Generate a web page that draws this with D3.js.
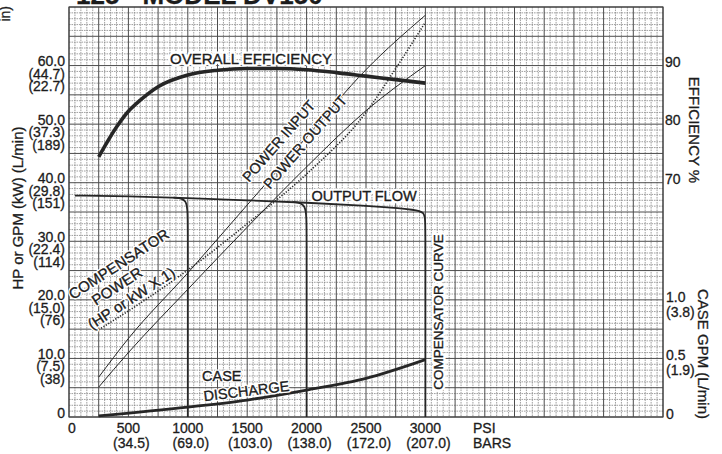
<!DOCTYPE html>
<html><head><meta charset="utf-8">
<script src="https://cdn.jsdelivr.net/npm/d3@7"></script>
<style>
body{margin:0;background:#fff}
svg{display:block}
text{font-family:"Liberation Sans",Arial,Helvetica,sans-serif}
</style>
</head><body>
<svg id="c" width="722" height="454"></svg>
<script>
// ---------- data ----------
const psiTicks = [0, 500, 1000, 1500, 2000, 2500, 3000];
const barTicks = ["", "(34.5)", "(69.0)", "(103.0)", "(138.0)", "(172.0)", "(207.0)"];
const leftTicks = [0, 10, 20, 30, 40, 50, 60];
const leftHp = ["0", "10.0", "20.0", "30.0", "40.0", "50.0", "60.0"];
const leftKw = ["", "(7.5)", "(15.0)", "(22.4)", "(29.8)", "(37.3)", "(44.7)"];
const leftLpm = ["", "(38)", "(76)", "(114)", "(151)", "(189)", "(22.7)"];
const effTicks = [70, 80, 90];
const caseTicks = [0, 0.5, 1.0];
const caseTickLabels = ["0", "0.5", "1.0"];
const caseTickLpm = ["", "(1.9)", "(3.8)"];

// overall efficiency (%)
const effPsi = [250, 400, 500, 600, 750, 1000, 1250, 1500, 1750, 2000, 2250, 2500, 2750, 3000];
const effVal = [74.4, 79.5, 82.2, 84.1, 86.4, 88.4, 89.2, 89.5, 89.5, 89.3, 88.8, 88.2, 87.6, 87.0];

// power input / output (HP)
const pwrPsi = [250, 500, 1000, 1500, 2000, 2500, 3000];
const pwrIn = [6.8, 13.4, 24.6, 36.2, 47.8, 59.3, 68.6];
const pwrOut = [5.1, 11.0, 21.8, 32.4, 42.7, 52.3, 60.0];

// compensator power (HP x .1)
const compPsi = [250, 700, 1100, 1500, 2000, 2500, 2750, 3000];
const compVal = [14.9, 20.8, 26.6, 33.0, 41.5, 52.0, 59.5, 67.4];

// output flow (GPM)
const flowPsi = [50, 500, 1000, 1500, 2000, 2500, 2800, 2880, 3000, 3000, 3000];
const flowVal = [37.8, 37.7, 37.4, 37.0, 36.6, 36.1, 35.6, 35.4, 35.1, 33.0, 0];
const comp1Psi = [880, 1000, 1000, 1000];
const comp1Val = [37.45, 37.35, 33.5, 0];
const comp2Psi = [1880, 2000, 2000, 2000];
const comp2Val = [36.7, 36.55, 32.5, 0];

// case discharge (GPM)
const casePsi = [250, 1000, 1500, 2000, 2500, 3000];
const caseVal = [0.01, 0.085, 0.145, 0.23, 0.33, 0.49];

// ---------- setup ----------
const svg = d3.select("#c");
const L = 69, R = 663, T = 7, B = 417;
const x = d3.scaleLinear().domain([0, 5000]).range([L, R]);
const y = d3.scaleLinear().domain([0, 70]).range([B, T]);
const yEff = d3.scaleLinear().domain([30, 100]).range([B, T]);
const yCase = d3.scaleLinear().domain([0, 3.5]).range([B, T]);
const INK = "#1c1c1c";

// ---------- grid ----------
const g = svg.append("g");
const vAll = d3.range(0, 5001, 50);
const hAll = d3.range(0, 70.01, 1);
g.selectAll("line.vm").data(vAll.filter(d => d % 250 !== 0)).join("line")
  .attr("x1", d => x(d)).attr("x2", d => x(d)).attr("y1", T).attr("y2", B)
  .attr("stroke", "#888").attr("stroke-width", 0.8).attr("stroke-dasharray", "1.6,0.9");
g.selectAll("line.hm").data(hAll.filter(d => d % 5 !== 0)).join("line")
  .attr("x1", L).attr("x2", R).attr("y1", d => y(d)).attr("y2", d => y(d))
  .attr("stroke", "#888").attr("stroke-width", 0.8).attr("stroke-dasharray", "1.6,0.9");
g.selectAll("line.vM").data(vAll.filter(d => d % 250 === 0)).join("line")
  .attr("x1", d => x(d)).attr("x2", d => x(d)).attr("y1", T).attr("y2", B)
  .attr("stroke", "#4c4c4c").attr("stroke-width", 1);
g.selectAll("line.hM").data(hAll.filter(d => d % 5 === 0)).join("line")
  .attr("x1", L).attr("x2", R).attr("y1", d => y(d)).attr("y2", d => y(d))
  .attr("stroke", "#4c4c4c").attr("stroke-width", 1);
g.append("rect").attr("x", L).attr("y", T).attr("width", R - L).attr("height", B - T)
  .attr("fill", "none").attr("stroke", "#404040").attr("stroke-width", 1.1);

// ---------- label helper (white knock-out behind text) ----------
function label(parent, text, opts) {
  const tr = `translate(${opts.x},${opts.y})${opts.rot ? ` rotate(${opts.rot})` : ""}`;
  const fs = opts.size || 14.5;
  const anchor = opts.anchor || "middle";
  parent.append("text").attr("transform", tr).attr("text-anchor", anchor).attr("font-size", fs)
    .attr("fill", "#fff").attr("stroke", "#fff").attr("stroke-width", opts.halo || 5).attr("stroke-linejoin", "round").text(text);
  parent.append("text").attr("transform", tr).attr("text-anchor", anchor).attr("font-size", fs)
    .attr("fill", INK).attr("stroke", INK).attr("stroke-width", 0.35).text(text);
}

// ---------- labels that knock out the grid (drawn before curves) ----------
const lab = svg.append("g");
label(lab, "OVERALL EFFICIENCY", {x: 251, y: 64, size: 15});
label(lab, "OUTPUT FLOW", {x: 364, y: 201});
label(lab, "COMPENSATOR CURVE", {x: 443, y: 312, rot: -90, size: 13.5});

// ---------- curves ----------
const curves = svg.append("g").attr("fill", "none").attr("stroke", "#262626");
const zip = (a, b) => a.map((v, i) => [v, b[i]]);
const lineHP = d3.line().x(d => x(d[0])).y(d => y(d[1])).curve(d3.curveMonotoneX);

curves.append("path").attr("d", d3.line().x(d => x(d[0])).y(d => yEff(d[1])).curve(d3.curveMonotoneX)(zip(effPsi, effVal)))
  .attr("stroke-width", 3.6);
curves.append("path").attr("d", lineHP(zip(pwrPsi, pwrIn))).attr("stroke-width", 1);
curves.append("path").attr("d", lineHP(zip(pwrPsi, pwrOut))).attr("stroke-width", 1);
curves.append("path").attr("d", lineHP(zip(compPsi, compVal)))
  .attr("stroke-width", 1.6).attr("stroke-dasharray", "1.2,1.6");
const basis = d3.line().x(d => x(d[0])).y(d => y(d[1])).curve(d3.curveBasis);
curves.append("path").attr("d", basis(zip(flowPsi, flowVal))).attr("stroke-width", 1.8);
curves.append("path").attr("d", basis(zip(comp1Psi, comp1Val))).attr("stroke-width", 1.8);
curves.append("path").attr("d", basis(zip(comp2Psi, comp2Val))).attr("stroke-width", 1.8);
curves.append("path").attr("d", d3.line().x(d => x(d[0])).y(d => yCase(d[1])).curve(d3.curveMonotoneX)(zip(casePsi, caseVal)))
  .attr("stroke-width", 2.8);

// ---------- remaining curve labels ----------
const lab2 = svg.append("g");
label(lab2, "CASE", {x: 202, y: 381, anchor: "start", halo: 3});
label(lab2, "DISCHARGE", {x: 247, y: 396, rot: -7, halo: 3});
label(lab2, "POWER INPUT", {x: 249, y: 183, rot: -49, anchor: "start", halo: 3});
label(lab2, "POWER OUTPUT", {x: 270, y: 190, rot: -49, anchor: "start", halo: 3});
label(lab2, "COMPENSATOR", {x: 73, y: 300, rot: -33, size: 15, anchor: "start", halo: 3});
label(lab2, "POWER", {x: 96, y: 306, rot: -33, size: 15, anchor: "start", halo: 3});
label(lab2, "(HP or kW X.1)", {x: 92, y: 330, rot: -33, size: 15, anchor: "start", halo: 3});

// ---------- axis labels ----------
const ax = svg.append("g").attr("font-size", 14).attr("fill", INK).attr("stroke", INK).attr("stroke-width", 0.3);
leftTicks.forEach((v, i) => {
  const yy = y(v) - 4.5;
  ax.append("text").attr("x", 65).attr("y", yy + 5).attr("text-anchor", "end").text(leftHp[i]);
  if (leftKw[i]) ax.append("text").attr("x", 65).attr("y", yy + 17.5).attr("text-anchor", "end").text(leftKw[i]);
  if (leftLpm[i]) ax.append("text").attr("x", 65).attr("y", yy + 30).attr("text-anchor", "end").text(leftLpm[i]);
});
psiTicks.forEach((v, i) => {
  ax.append("text").attr("x", x(v) + (v === 0 ? 3 : 0)).attr("y", 433).attr("text-anchor", "middle").text(v);
  if (barTicks[i]) ax.append("text").attr("x", x(v) + 3).attr("y", 448).attr("text-anchor", "middle").text(barTicks[i]);
});
ax.append("text").attr("x", 473).attr("y", 433).text("PSI");
ax.append("text").attr("x", 473).attr("y", 448).text("BARS");
effTicks.forEach(v => {
  ax.append("text").attr("x", 665).attr("y", yEff(v) + 1).text(v);
});
caseTicks.forEach((v, i) => {
  const yy = yCase(v) - 3;
  ax.append("text").attr("x", 666).attr("y", yy + 5).text(caseTickLabels[i]);
  if (caseTickLpm[i]) ax.append("text").attr("x", 666).attr("y", yy + 20).text(caseTickLpm[i]);
});

// axis titles
const tt = svg.append("g").attr("font-size", 15).attr("fill", INK).attr("stroke", INK).attr("stroke-width", 0.3);
tt.append("text").attr("transform", "translate(23,208) rotate(-90)").attr("text-anchor", "middle").text("HP or GPM (kW) (L/min)");
tt.append("text").attr("transform", "translate(10,6) rotate(-90)").attr("text-anchor", "end").attr("font-size", 14).text("in)");
tt.append("text").attr("transform", "translate(689,130) rotate(90)").attr("text-anchor", "middle").text("EFFICIENCY %");
tt.append("text").attr("transform", "translate(698,354) rotate(90)").attr("text-anchor", "middle").text("CASE GPM (L/min)");
tt.append("text").attr("x", 76).attr("y", 4).attr("font-size", 26).attr("font-weight", "bold").text("125 - MODEL DV150");
</script>
</body></html>
